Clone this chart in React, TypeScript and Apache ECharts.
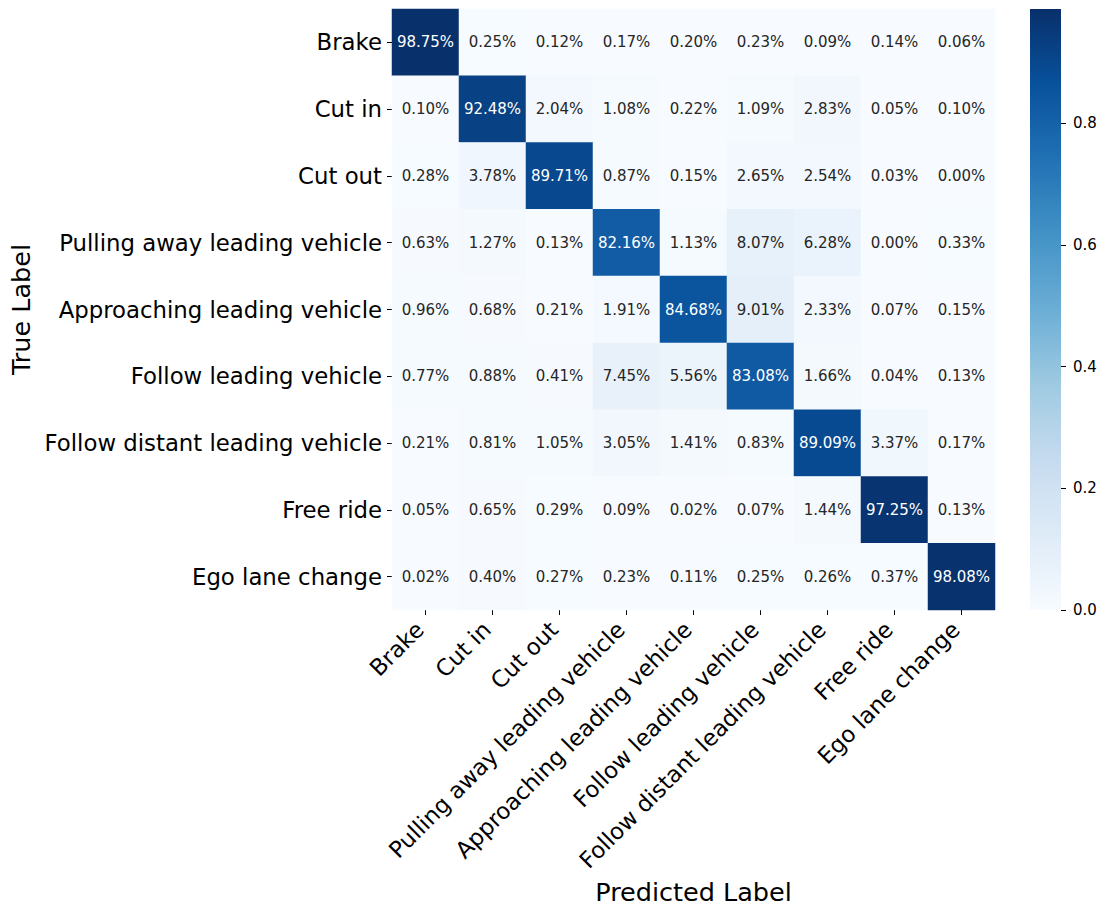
import React, { useEffect, useRef } from "react";
import * as echarts from "echarts";

// Class names in display order (rows = true label, columns = predicted label)
const classes = [
  "Brake",
  "Cut in",
  "Cut out",
  "Pulling away leading vehicle",
  "Approaching leading vehicle",
  "Follow leading vehicle",
  "Follow distant leading vehicle",
  "Free ride",
  "Ego lane change",
];

// Row-normalised confusion matrix, in percent
const rowBrake = [98.75, 0.25, 0.12, 0.17, 0.2, 0.23, 0.09, 0.14, 0.06];
const rowCutIn = [0.1, 92.48, 2.04, 1.08, 0.22, 1.09, 2.83, 0.05, 0.1];
const rowCutOut = [0.28, 3.78, 89.71, 0.87, 0.15, 2.65, 2.54, 0.03, 0.0];
const rowPullingAway = [0.63, 1.27, 0.13, 82.16, 1.13, 8.07, 6.28, 0.0, 0.33];
const rowApproaching = [0.96, 0.68, 0.21, 1.91, 84.68, 9.01, 2.33, 0.07, 0.15];
const rowFollow = [0.77, 0.88, 0.41, 7.45, 5.56, 83.08, 1.66, 0.04, 0.13];
const rowFollowDistant = [0.21, 0.81, 1.05, 3.05, 1.41, 0.83, 89.09, 3.37, 0.17];
const rowFreeRide = [0.05, 0.65, 0.29, 0.09, 0.02, 0.07, 1.44, 97.25, 0.13];
const rowEgoLaneChange = [0.02, 0.4, 0.27, 0.23, 0.11, 0.25, 0.26, 0.37, 98.08];

const matrix = [
  rowBrake,
  rowCutIn,
  rowCutOut,
  rowPullingAway,
  rowApproaching,
  rowFollow,
  rowFollowDistant,
  rowFreeRide,
  rowEgoLaneChange,
];

// Colour bar ticks
const colorbarTicks = [0, 0.2, 0.4, 0.6, 0.8];

// "Blues" sequential palette
const blues = [
  "#f7fbff",
  "#deebf7",
  "#c6dbef",
  "#9ecae1",
  "#6baed6",
  "#4292c6",
  "#2171b5",
  "#08519c",
  "#08306b",
];

const FONT = "DejaVu Sans";

export default function App() {
  const ref = useRef<HTMLDivElement>(null);

  useEffect(() => {
    if (!ref.current) return;
    // full-window canvas: no page margin, no scrollbars
    document.body.style.margin = "0";
    document.body.style.overflow = "hidden";

    const chart = echarts.init(ref.current, undefined, { renderer: "svg" });

    const fractions = matrix.map((r) => r.map((v) => v / 100));
    const vmin = 0;
    const vmax = Math.max(...fractions.flat());

    const data: any[] = [];
    fractions.forEach((row, i) => {
      row.forEach((v, j) => {
        const dark = v / vmax > 0.55;
        data.push({
          value: [j, i, v],
          label: { color: dark ? "#ffffff" : "#262626" },
        });
      });
    });

    const gridLeft = 392;
    const gridTop = 9;
    const gridW = 603;
    const gridH = 601;
    const cbLeft = 1030;
    const cbW = 31;

    const stops = blues.map((c, k) => ({ offset: k / (blues.length - 1), color: c }));

    chart.setOption({
      animation: false,
      backgroundColor: "#ffffff",
      textStyle: { fontFamily: FONT },
      grid: [
        {
          left: gridLeft,
          top: gridTop,
          width: gridW,
          height: gridH,
          containLabel: false,
          outerBoundsMode: "none",
        },
        {
          left: cbLeft,
          top: gridTop,
          width: cbW,
          height: gridH,
          containLabel: false,
          outerBoundsMode: "none",
        },
      ],
      xAxis: [
        {
          type: "category",
          gridIndex: 0,
          data: classes,
          position: "bottom",
          name: "Predicted Label",
          nameLocation: "middle",
          nameGap: 268,
          nameTextStyle: { fontSize: 25.5, color: "#000", fontFamily: FONT },
          axisLine: { show: false },
          axisTick: {
            show: true,
            alignWithLabel: true,
            length: 5,
            lineStyle: { color: "#000", width: 1 },
          },
          axisLabel: {
            rotate: 45,
            fontSize: 22.8,
            color: "#000",
            margin: 10,
            interval: 0,
            padding: [0, 8, 6, 0],
            fontFamily: FONT,
          },
          splitLine: { show: false },
        },
        {
          type: "category",
          gridIndex: 1,
          data: [""],
          show: false,
        },
      ],
      yAxis: [
        {
          type: "category",
          gridIndex: 0,
          data: classes,
          inverse: true,
          name: "True Label",
          nameLocation: "middle",
          nameGap: 356,
          nameRotate: 90,
          nameTextStyle: { fontSize: 25.5, color: "#000", fontFamily: FONT },
          axisLine: { show: false },
          axisTick: {
            show: true,
            alignWithLabel: true,
            length: 5,
            lineStyle: { color: "#000", width: 1 },
          },
          axisLabel: {
            fontSize: 22.8,
            color: "#000",
            margin: 10,
            interval: 0,
            fontFamily: FONT,
          },
          splitLine: { show: false },
        },
        {
          type: "value",
          gridIndex: 1,
          position: "right",
          min: vmin,
          max: vmax,
          axisLine: { show: false },
          axisTick: {
            show: true,
            length: 5,
            customValues: colorbarTicks,
            lineStyle: { color: "#000", width: 1 },
          },
          axisLabel: {
            fontSize: 15,
            color: "#000",
            margin: 12,
            padding: [4, 0, 0, 0],
            fontFamily: FONT,
            customValues: colorbarTicks,
            formatter: (v: number) => v.toFixed(1),
          },
          splitLine: { show: false },
        },
      ],
      visualMap: {
        type: "continuous",
        show: false,
        min: vmin,
        max: vmax,
        dimension: 2,
        seriesIndex: 0,
        inRange: { color: blues },
      },
      series: [
        {
          type: "heatmap",
          xAxisIndex: 0,
          yAxisIndex: 0,
          data,
          itemStyle: { borderWidth: 0 },
          emphasis: { disabled: true },
          label: {
            show: true,
            fontSize: 15,
            fontFamily: FONT,
            formatter: (p: any) => (p.value[2] * 100).toFixed(2) + "%",
          },
        },
        {
          // colour bar drawn as a single full-height bar with the palette gradient
          type: "bar",
          xAxisIndex: 1,
          yAxisIndex: 1,
          data: [vmax],
          barWidth: "100%",
          silent: true,
          itemStyle: {
            color: new echarts.graphic.LinearGradient(0, 1, 0, 0, stops),
          },
        },
      ],
    });

    return () => chart.dispose();
  }, []);

  return <div ref={ref} style={{ width: 1103, height: 906 }} />;
}
